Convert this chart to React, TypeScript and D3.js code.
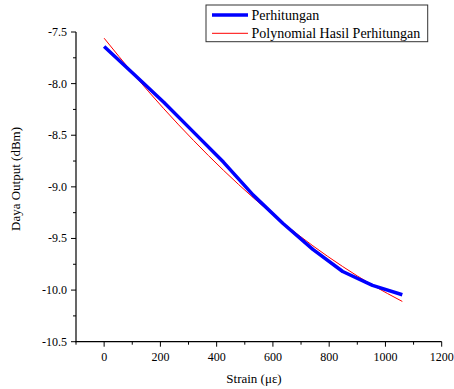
import React from "react";
import * as d3 from "d3";

const strain = [0, 106, 212, 318, 424, 530, 636, 742, 848, 954, 1060];
const perhitungan = [-7.64, -7.91, -8.18, -8.47, -8.76, -9.08, -9.355, -9.605, -9.82, -9.955, -10.045];
const polynomial = [-7.56, -7.912, -8.243, -8.551, -8.839, -9.105, -9.349, -9.571, -9.772, -9.952, -10.11];
const xTicks = [0, 200, 400, 600, 800, 1000, 1200];
const xMinor = [-100, 100, 300, 500, 700, 900, 1100];
const yTicks = [-7.5, -8.0, -8.5, -9.0, -9.5, -10.0, -10.5];
const yMinor = [-7.75, -8.25, -8.75, -9.25, -9.75, -10.25];

const FONT = "'Times New Roman', 'Liberation Serif', Times, serif";
const ts = { fontFamily: FONT };

export default function App() {
  const x = d3.scaleLinear().domain([-100, 1200]).range([76, 441.7]);
  const y = d3.scaleLinear().domain([-10.5, -7.5]).range([341.7, 32]);
  const blueLine = d3
    .line<number>()
    .x((_, i) => x(strain[i]))
    .y((d) => y(d))
    .curve(d3.curveLinear);
  const redLine = d3
    .line<number>()
    .x((_, i) => x(strain[i]))
    .y((d) => y(d))
    .curve(d3.curveMonotoneX);
  const x0 = x(-100);
  const y0 = y(-10.5);
  return (
    <svg width={454} height={389} style={{ position: "absolute", left: 0, top: 0, background: "#fff", fontFamily: FONT }}>
      <rect width={454} height={389} fill="#fff" />
      {/* axes */}
      <line x1={x0} x2={x0} y1={y(-7.5)} y2={y0 + 0.5} stroke="#000" strokeWidth={1.2} />
      <line x1={x0 - 0.5} x2={x(1200)} y1={y0} y2={y0} stroke="#000" strokeWidth={1.2} />
      {yTicks.map((t) => (
        <g key={"y" + t}>
          <line x1={x0 - 5} x2={x0} y1={y(t)} y2={y(t)} stroke="#000" strokeWidth={1} />
          <text x={x0 - 9} y={y(t) + 4} fontSize={12} textAnchor="end" style={ts}>
            {t.toFixed(1)}
          </text>
        </g>
      ))}
      {yMinor.map((t) => (
        <line key={"ym" + t} x1={x0 - 3} x2={x0} y1={y(t)} y2={y(t)} stroke="#000" strokeWidth={1} />
      ))}
      {xTicks.map((t) => (
        <g key={"x" + t}>
          <line x1={x(t)} x2={x(t)} y1={y0} y2={y0 + 5} stroke="#000" strokeWidth={1} />
          <text x={x(t)} y={y0 + 19.5} fontSize={12} textAnchor="middle" style={ts}>
            {t}
          </text>
        </g>
      ))}
      {xMinor.map((t) => (
        <line key={"xm" + t} x1={x(t)} x2={x(t)} y1={y0} y2={y0 + 3} stroke="#000" strokeWidth={1} />
      ))}
      {/* labels */}
      <text x={254} y={383} fontSize={13} textAnchor="middle" style={ts}>
        Strain (με)
      </text>
      <text transform="translate(20,179) rotate(-90)" fontSize={13} textAnchor="middle" style={ts}>
        Daya Output (dBm)
      </text>
      {/* series */}
      <path d={redLine(polynomial) || ""} fill="none" stroke="#ff0000" strokeWidth={1} />
      <path d={blueLine(perhitungan) || ""} fill="none" stroke="#0000ff" strokeWidth={3.5} strokeLinejoin="round" />
      {/* legend */}
      <rect x={206} y={5} width={221.7} height={36.7} fill="#fff" stroke="#333" strokeWidth={1} />
      <line x1={212} x2={248} y1={15} y2={15} stroke="#0000ff" strokeWidth={3.5} />
      <line x1={212} x2={248} y1={33.3} y2={33.3} stroke="#ff0000" strokeWidth={1} />
      <text x={251.5} y={19.5} fontSize={14} style={ts}>
        Perhitungan
      </text>
      <text x={251.5} y={37.5} fontSize={14} style={ts}>
        Polynomial Hasil Perhitungan
      </text>
    </svg>
  );
}
